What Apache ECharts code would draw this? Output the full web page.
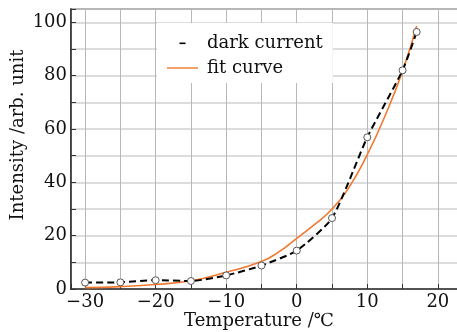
<!DOCTYPE html>
<html>
<head>
<meta charset="utf-8">
<script src="https://cdn.jsdelivr.net/npm/echarts@6/dist/echarts.min.js"></script>
<style>
  html, body { margin: 0; padding: 0; background: #fff; }
  #chart { width: 457px; height: 332px; }
</style>
</head>
<body>
<div id="chart"></div>
<script>
// measured dark current
const tempData = [-30, -25, -20, -15, -10, -5, 0, 5, 10, 15, 17]
const darkCurrent = [2.4, 2.5, 3.3, 3.0, 5.1, 8.8, 14.4, 26.6, 56.9, 82, 96.4]
// fit curve
const fitTemp = [-30, -25, -20, -15, -10, -5, -2.5, 0, 2.5, 5, 7.5, 10, 12.5, 15, 17]
const fitValue = [0.5, 0.9, 1.7, 3.1, 6.3, 10.3, 14, 19, 24.1, 30, 38.5, 50.4, 64.8, 81.7, 98.6]

const font = 'DejaVu Serif'
const chart = echarts.init(document.getElementById('chart'))

chart.setOption({
  animation: false,
  grid: {
    left: 71,
    right: -2,
    top: 9,
    bottom: 43,
    outerBoundsMode: 'none',
    show: true,
    borderColor: '#333',
    borderWidth: 1.5
  },
  legend: {
    orient: 'vertical',
    left: 157,
    top: 23,
    padding: [11, 10, 6, 10],
    itemWidth: 31,
    itemHeight: 14,
    itemGap: 7,
    backgroundColor: '#fff',
    textStyle: { fontFamily: font, fontSize: 18, color: '#111', padding: [0, 0, 0, 4] },
    data: [
      {
        name: 'dark current',
        icon: 'path://M0,0M31,14M12.5,6.5h6v1.6h-6z',
        itemStyle: { color: '#000', borderWidth: 0 }
      },
      {
        name: 'fit curve',
        icon: 'path://M0,0M31,14M0,6.3h31v1.4h-31z',
        itemStyle: { color: '#f2782f', borderWidth: 0 }
      }
    ]
  },
  xAxis: {
    type: 'value',
    min: -32,
    max: 23,
    splitNumber: 11,
    name: 'Temperature /℃',
    nameLocation: 'middle',
    nameGap: 23,
    nameMoveOverlap: false,
    nameTextStyle: { fontFamily: font, fontSize: 18, color: '#111', padding: [0, 12, 0, 0] },
    axisLine: { onZero: false, lineStyle: { color: '#333', width: 1.5 } },
    axisTick: { inside: true, length: 5, lineStyle: { color: '#333' } },
    axisLabel: {
      fontFamily: font,
      fontSize: 18,
      color: '#111',
      margin: 4,
      formatter: function (v) {
        if (v % 10 !== 0 || v < -30 || v > 20) return ''
        return String(v).replace('-', '−')
      }
    },
    splitLine: { show: true, lineStyle: { color: '#b8b8b8', width: 1 } }
  },
  yAxis: {
    type: 'value',
    min: 0,
    max: 105,
    interval: 10,
    name: 'Intensity /arb. unit',
    nameLocation: 'middle',
    nameGap: 44,
    nameMoveOverlap: false,
    nameTextStyle: { fontFamily: font, fontSize: 18, color: '#111', padding: [0, 0, 0, 28] },
    axisLine: { show: true, onZero: false, lineStyle: { color: '#333', width: 1.5 } },
    axisTick: { show: true, inside: true, length: 5, lineStyle: { color: '#333' } },
    axisLabel: {
      fontFamily: font,
      fontSize: 18,
      color: '#111',
      margin: 4,
      formatter: function (v) {
        return (v % 20 === 0 && v <= 100) ? String(v) : ''
      }
    },
    splitLine: { show: true, lineStyle: { color: '#d2d2d2', width: 1.5 } }
  },
  series: [
    {
      name: 'fit curve',
      type: 'line',
      smooth: true,
      symbol: 'none',
      data: fitTemp.map((t, i) => [t, fitValue[i]]),
      lineStyle: { color: '#f2782f', width: 1.6 },
      itemStyle: { color: '#f2782f' },
      z: 2
    },
    {
      name: 'dark current',
      type: 'line',
      smooth: 0.2,
      symbol: 'circle',
      symbolSize: 7,
      data: tempData.map((t, i) => [t, darkCurrent[i]]),
      lineStyle: { color: '#000', width: 2, type: [7, 4] },
      itemStyle: { color: '#fff', borderColor: '#555', borderWidth: 1 },
      z: 3
    }
  ]
})
</script>
</body>
</html>
